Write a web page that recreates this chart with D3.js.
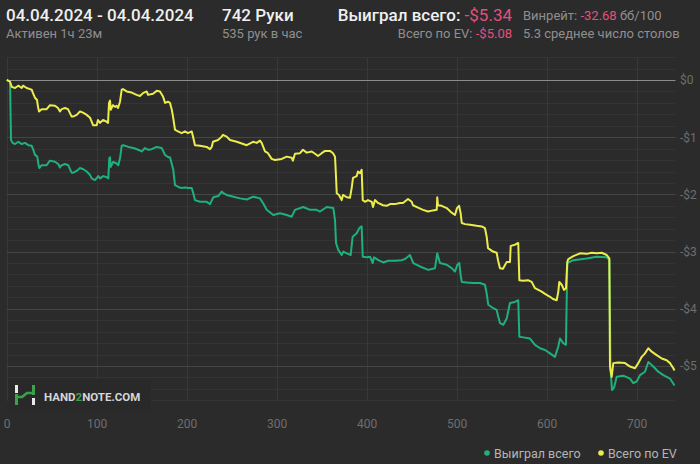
<!DOCTYPE html>
<html>
<head>
<meta charset="utf-8">
<script src="https://cdn.jsdelivr.net/npm/d3@7/dist/d3.min.js"></script>
<style>
  html, body { margin: 0; padding: 0; background: #2b2b2c; }
  svg { display: block; font-family: Roboto, "Open Sans", "Noto Sans", sans-serif; }
</style>
</head>
<body>
<svg id="chart" width="700" height="464"></svg>
<script>
// ---------- data ----------
const xTicks = [0, 100, 200, 300, 400, 500, 600, 700];
const yTicks = [0, -1, -2, -3, -4, -5];
const yTickLabels = ["$0", "-$1", "-$2", "-$3", "-$4", "-$5"];
const totalHands = 742;

const evHands = [0, 3.7, 5.6, 9.2, 12.9, 16.7, 18.1, 22.2, 25.9, 27.8, 29.2, 31.4, 33.7, 34.8, 35.9, 38.9, 44.4, 48.1, 53.7, 57, 59.2, 61.1, 64.8, 68.1, 70.3, 72.2, 73.7, 77.8, 81.4, 84.8, 88.9, 92.6, 94.4, 95.9, 100, 101.4, 103.7, 107, 111.1, 112.6, 113.7, 114.8, 115.6, 118.1, 120.3, 122.2, 123.7, 125.9, 127.8, 129.2, 133.3, 138.9, 144.4, 148.1, 151.4, 155.6, 157, 162.6, 166.7, 170.3, 173.7, 176, 179.2, 181.4, 183.3, 184.8, 187, 190.3, 194.4, 198.1, 201.4, 205.6, 207, 209.2, 214.8, 222.2, 225.9, 227.8, 229.2, 234.8, 238.9, 240.3, 244.4, 248.1, 255.6, 266.7, 273.7, 277.8, 281.4, 283.3, 287, 290.3, 294.4, 298.1, 305.6, 311.1, 316.7, 318, 320.3, 325.9, 329.2, 333.3, 338.9, 342.6, 345.9, 350, 353.7, 359.2, 362.6, 364.8, 365.9, 366.7, 369.2, 372.2, 373.7, 377.8, 381.4, 383.3, 384.8, 388.9, 390.3, 392.6, 394.4, 395.6, 398.1, 401.4, 405.6, 407, 409.2, 412.6, 418.1, 422.2, 425.9, 431.4, 437, 440.3, 445.9, 450, 451.4, 457, 462.6, 468.1, 473.7, 477.8, 478.4, 479.2, 483.3, 488.9, 494.4, 498.1, 500.3, 502.6, 504.4, 505.6, 509.2, 514.8, 522.2, 527.8, 531.4, 533.3, 534.8, 540.3, 544.4, 545.9, 548.1, 551.4, 555.6, 559.2, 560, 564.8, 568.4, 569.6, 573.7, 579.2, 583.3, 587, 590.7, 594.4, 598.1, 603.7, 607, 611.1, 612.9, 614, 616.7, 619.2, 621.4, 622.9, 624, 629.6, 637, 644.4, 650, 655.6, 661.1, 666.7, 669.6, 670.3, 672.2, 674, 679.6, 687, 692.6, 698.1, 701.8, 705.6, 709.2, 712.9, 716.7, 722.2, 727.8, 733.3, 737, 740.7, 742];
const evValues = [0, -0.03, -0.12, -0.14, -0.10, -0.14, -0.10, -0.14, -0.16, -0.17, -0.23, -0.31, -0.35, -0.47, -0.55, -0.51, -0.51, -0.44, -0.45, -0.49, -0.55, -0.51, -0.49, -0.51, -0.58, -0.64, -0.64, -0.61, -0.55, -0.57, -0.61, -0.66, -0.73, -0.79, -0.79, -0.70, -0.75, -0.70, -0.73, -0.75, -0.40, -0.36, -0.52, -0.44, -0.47, -0.45, -0.49, -0.38, -0.17, -0.16, -0.20, -0.22, -0.26, -0.28, -0.23, -0.20, -0.26, -0.24, -0.19, -0.20, -0.29, -0.40, -0.38, -0.40, -0.51, -0.64, -0.87, -0.90, -0.93, -0.90, -0.93, -0.90, -0.99, -1.14, -1.15, -1.17, -1.21, -1.17, -1.08, -1.05, -0.99, -0.96, -0.99, -1.05, -1.08, -1.14, -1.08, -1.10, -1.06, -1.10, -1.25, -1.28, -1.38, -1.40, -1.38, -1.34, -1.36, -1.41, -1.29, -1.28, -1.22, -1.27, -1.25, -1.29, -1.33, -1.28, -1.24, -1.24, -1.28, -1.34, -1.69, -1.98, -2.01, -2.10, -2.01, -2.05, -2.06, -1.89, -1.71, -1.68, -1.60, -1.63, -1.57, -2.10, -2.13, -2.10, -2.13, -2.22, -2.10, -2.15, -2.19, -2.20, -2.17, -2.17, -2.15, -2.15, -2.08, -2.13, -2.19, -2.23, -2.27, -2.30, -2.28, -2.27, -2.05, -2.19, -2.20, -2.24, -2.32, -2.36, -2.24, -2.20, -2.33, -2.50, -2.52, -2.53, -2.55, -2.56, -2.59, -2.74, -2.94, -3.00, -3.02, -3.15, -3.29, -3.30, -3.18, -3.18, -2.90, -2.88, -2.85, -3.50, -3.51, -3.50, -3.53, -3.64, -3.67, -3.70, -3.74, -3.79, -3.83, -3.85, -3.70, -3.53, -3.58, -3.67, -3.64, -3.18, -3.13, -3.08, -3.03, -3.04, -3.02, -3.03, -3.02, -3.06, -3.12, -5.01, -5.19, -4.95, -4.94, -4.95, -5.01, -5.04, -4.95, -4.84, -4.78, -4.69, -4.75, -4.81, -4.87, -4.90, -4.95, -5.04, -5.08];

const wonHands = [0, 3.7, 4.8, 6.7, 9.2, 12.9, 16.7, 20.3, 24, 27.8, 29.6, 31.4, 34, 35.1, 36.2, 38.9, 44.4, 48.1, 53.7, 57.3, 59.2, 61.1, 64.8, 68.4, 70.3, 72.2, 74, 77.8, 81.4, 85.1, 88.9, 92.6, 94.4, 98.1, 101.8, 103.7, 107.3, 111.1, 112.9, 114, 114.8, 115.6, 118.4, 122.2, 124, 125.9, 127.8, 129.6, 135.1, 140.7, 146.2, 150, 153.7, 157.3, 161.1, 166.7, 172.2, 175.9, 179.6, 181.4, 183.3, 185.1, 187, 190.7, 194.4, 198.1, 201.8, 205.6, 207.3, 209.2, 214.8, 222.2, 225.9, 229.6, 235.1, 238.9, 240.7, 244.4, 251.8, 259.2, 266.7, 274, 281.4, 285.1, 288.9, 296.2, 303.7, 311.1, 316.7, 320.3, 329.6, 337, 344.4, 348.1, 355.6, 362.9, 364.8, 365.9, 368.4, 372.2, 374, 377.8, 382.2, 384.4, 388.9, 391.8, 394.4, 395.6, 400, 403.7, 406.7, 408.1, 412.9, 418.4, 424, 431.4, 438.9, 442.6, 448.1, 451.8, 459.2, 468.4, 475.9, 478.4, 481.4, 488.9, 494.4, 498.1, 500.7, 502.9, 504.4, 505.6, 511.1, 518.4, 525.9, 531.4, 533.3, 535.1, 540.7, 544.4, 546.2, 548.1, 551.8, 555.6, 559.2, 564.8, 568.4, 569.6, 574, 581.4, 587, 592.6, 598.1, 603.7, 609.2, 612.9, 614.8, 618.4, 621.4, 622.9, 629.6, 644.4, 655.6, 666.7, 669.6, 670.9, 672.6, 674.8, 677.8, 685.1, 692.6, 696.2, 700, 703.7, 709.2, 712.9, 718.4, 723.9, 729.6, 737, 742];
const wonValues = [0, -0.03, -1.05, -1.10, -1.12, -1.08, -1.12, -1.10, -1.14, -1.15, -1.22, -1.31, -1.34, -1.46, -1.54, -1.49, -1.49, -1.41, -1.43, -1.47, -1.53, -1.49, -1.47, -1.49, -1.56, -1.62, -1.62, -1.59, -1.54, -1.56, -1.60, -1.66, -1.72, -1.75, -1.68, -1.72, -1.68, -1.70, -1.72, -1.37, -1.35, -1.52, -1.43, -1.46, -1.49, -1.37, -1.15, -1.14, -1.17, -1.19, -1.22, -1.25, -1.19, -1.22, -1.21, -1.17, -1.19, -1.31, -1.35, -1.35, -1.46, -1.57, -1.84, -1.87, -1.89, -1.88, -1.89, -1.89, -1.98, -2.10, -2.13, -2.13, -2.17, -2.05, -2.03, -1.95, -1.98, -2.01, -2.04, -2.07, -2.09, -2.04, -2.07, -2.16, -2.27, -2.36, -2.33, -2.36, -2.39, -2.27, -2.22, -2.27, -2.27, -2.30, -2.22, -2.24, -2.45, -2.85, -2.97, -3.06, -3.00, -3.03, -3.06, -2.74, -2.68, -2.59, -2.56, -3.09, -3.10, -3.09, -3.20, -3.10, -3.15, -3.19, -3.16, -3.16, -3.15, -3.13, -3.06, -3.20, -3.26, -3.32, -3.29, -3.03, -3.20, -3.23, -3.29, -3.35, -3.23, -3.20, -3.41, -3.53, -3.54, -3.55, -3.55, -3.58, -3.73, -3.93, -3.99, -4.02, -4.14, -4.25, -4.28, -4.17, -3.90, -3.88, -3.85, -4.49, -4.50, -4.52, -4.63, -4.69, -4.72, -4.78, -4.84, -4.66, -4.52, -4.60, -4.63, -3.20, -3.15, -3.12, -3.09, -3.10, -3.15, -5.07, -5.42, -5.38, -5.19, -5.17, -5.22, -5.30, -5.27, -5.16, -5.10, -4.93, -5.01, -5.10, -5.16, -5.22, -5.34];

const legendLabels = ["Выиграл всего", "Всего по EV"];

// ---------- drawing ----------
const W = 700, H = 464;
const C = {
  bg: "#2b2b2c", minor: "#343435", major: "#454546", zero: "#8c8c8c", vgrid: "#383839",
  won: "#1fb07c", ev: "#ecec4c", pink: "#e4507d", gray: "#8f8f8f", white: "#f0f0f0", tick: "#6e6e6e"
};
const svg = d3.select("#chart");
svg.append("rect").attr("width", W).attr("height", H).attr("fill", C.bg);

const x = d3.scaleLinear().domain([0, totalHands]).range([6.7, 674.5]);
const y = d3.scaleLinear().domain([0.4, -5.6]).range([57.1, 400.3]);
const plotTop = y(0.4), plotBot = y(-5.6);

// minor gridlines every 0.2
const g = svg.append("g");
g.selectAll("line.minor").data(y.ticks(30)).join("line")
  .attr("x1", x(0)).attr("x2", x(totalHands) + 1)
  .attr("y1", d => Math.round(y(d)) + 0.5).attr("y2", d => Math.round(y(d)) + 0.5)
  .attr("stroke", C.minor).attr("stroke-width", 1);
// vertical grid
g.selectAll("line.v").data(xTicks).join("line")
  .attr("x1", d => Math.round(x(d)) + 0.5).attr("x2", d => Math.round(x(d)) + 0.5)
  .attr("y1", plotTop).attr("y2", plotBot)
  .attr("stroke", C.vgrid).attr("stroke-width", 1);
// major gridlines
g.selectAll("line.major").data(yTicks).join("line")
  .attr("x1", x(0)).attr("x2", x(totalHands) + 1)
  .attr("y1", d => Math.round(y(d)) + 0.5).attr("y2", d => Math.round(y(d)) + 0.5)
  .attr("stroke", d => d === 0 ? C.zero : C.major).attr("stroke-width", d => d === 0 ? 1.2 : 1);

// y labels (right)
const yAxis = d3.axisRight(y).tickValues(yTicks).tickSize(0).tickPadding(0)
  .tickFormat((d, i) => yTickLabels[i]);
const ya = svg.append("g").attr("transform", `translate(680,0)`).call(yAxis);
ya.select(".domain").remove();
ya.selectAll("text").attr("fill", C.tick).attr("font-size", 12).attr("font-family", "Roboto, sans-serif");

// x labels (bottom)
const xAxis = d3.axisBottom(x).tickValues(xTicks).tickSize(0).tickPadding(0).tickFormat(d3.format("d"));
const xa = svg.append("g").attr("transform", `translate(0,419)`).call(xAxis);
xa.select(".domain").remove();
xa.selectAll("text").attr("fill", C.tick).attr("font-size", 12).attr("font-family", "Roboto, sans-serif");

// logo
const logo = svg.append("g");
logo.append("rect").attr("x", 9).attr("y", 379).attr("width", 142).attr("height", 32).attr("fill", "#29292a");
logo.append("rect").attr("x", 15).attr("y", 385).attr("width", 3).attr("height", 8).attr("fill", "#e8e8e8");
logo.append("rect").attr("x", 15).attr("y", 394).attr("width", 3).attr("height", 11).attr("fill", "#3aa34a");
logo.append("rect").attr("x", 32).attr("y", 385).attr("width", 3).attr("height", 10).attr("fill", "#3aa34a");
logo.append("rect").attr("x", 32).attr("y", 398).attr("width", 3).attr("height", 7).attr("fill", "#e8e8e8");
logo.append("path").attr("d", "M16.5,397 L22,397 L27,393 L33.5,393").attr("fill", "none")
  .attr("stroke", "#3aa34a").attr("stroke-width", 2.6);
const lt = logo.append("text").attr("x", 44).attr("y", 401).attr("font-size", 11.5).attr("font-weight", 700)
  .attr("fill", "#d6d6d6").attr("font-family", "Roboto, sans-serif");
lt.append("tspan").text("HAND");
lt.append("tspan").attr("fill", "#3aa34a").text("2");
lt.append("tspan").text("NOTE.COM");

// series lines
const line = d3.line().x(d => x(d[0])).y(d => y(d[1])).curve(d3.curveLinear);
const wonData = wonHands.map((h, i) => [h, wonValues[i]]);
const evData = evHands.map((h, i) => [h, evValues[i]]);
svg.append("path").datum(wonData).attr("d", line).attr("fill", "none")
  .attr("stroke", C.won).attr("stroke-width", 2).attr("stroke-linejoin", "round");
svg.append("path").datum(evData).attr("d", line).attr("fill", "none")
  .attr("stroke", C.ev).attr("stroke-width", 2).attr("stroke-linejoin", "round");

// header
const hdr = svg.append("g").attr("font-family", "Roboto, sans-serif");
hdr.append("text").attr("x", 6).attr("y", 21).attr("font-size", 17).attr("font-weight", 500)
  .attr("fill", C.white).text("04.04.2024 - 04.04.2024");
hdr.append("text").attr("x", 6).attr("y", 38).attr("font-size", 13).attr("fill", C.gray).text("Активен 1ч 23м");
hdr.append("text").attr("x", 222).attr("y", 21).attr("font-size", 17).attr("font-weight", 500)
  .attr("fill", C.white).text("742 Руки");
hdr.append("text").attr("x", 222).attr("y", 38).attr("font-size", 13).attr("fill", C.gray).text("535 рук в час");
const t1 = hdr.append("text").attr("x", 512).attr("y", 21).attr("text-anchor", "end").attr("font-size", 17);
t1.append("tspan").attr("fill", C.white).attr("font-weight", 500).text("Выиграл всего: ");
t1.append("tspan").attr("fill", C.pink).text("-$5.34");
const t2 = hdr.append("text").attr("x", 512).attr("y", 38).attr("text-anchor", "end").attr("font-size", 13);
t2.append("tspan").attr("fill", C.gray).text("Всего по EV: ");
t2.append("tspan").attr("fill", C.pink).text("-$5.08");
const t3 = hdr.append("text").attr("x", 523).attr("y", 20).attr("font-size", 13);
t3.append("tspan").attr("fill", C.gray).text("Винрейт: ");
t3.append("tspan").attr("fill", C.pink).text("-32.68");
t3.append("tspan").attr("fill", C.gray).text(" бб/100");
hdr.append("text").attr("x", 523).attr("y", 38).attr("font-size", 13).attr("fill", C.gray)
  .text("5.3 среднее число столов");

// legend
const legColors = [C.won, C.ev];
const legX = [487, 601];
const leg = svg.append("g").attr("font-family", "Roboto, sans-serif");
legendLabels.forEach((lab, i) => {
  leg.append("circle").attr("cx", legX[i]).attr("cy", 453).attr("r", 2.8).attr("fill", legColors[i]);
  leg.append("text").attr("x", legX[i] + 7).attr("y", 457.5).attr("font-size", 12.5)
    .attr("fill", "#b5b5b5").text(lab);
});
</script>
</body>
</html>
